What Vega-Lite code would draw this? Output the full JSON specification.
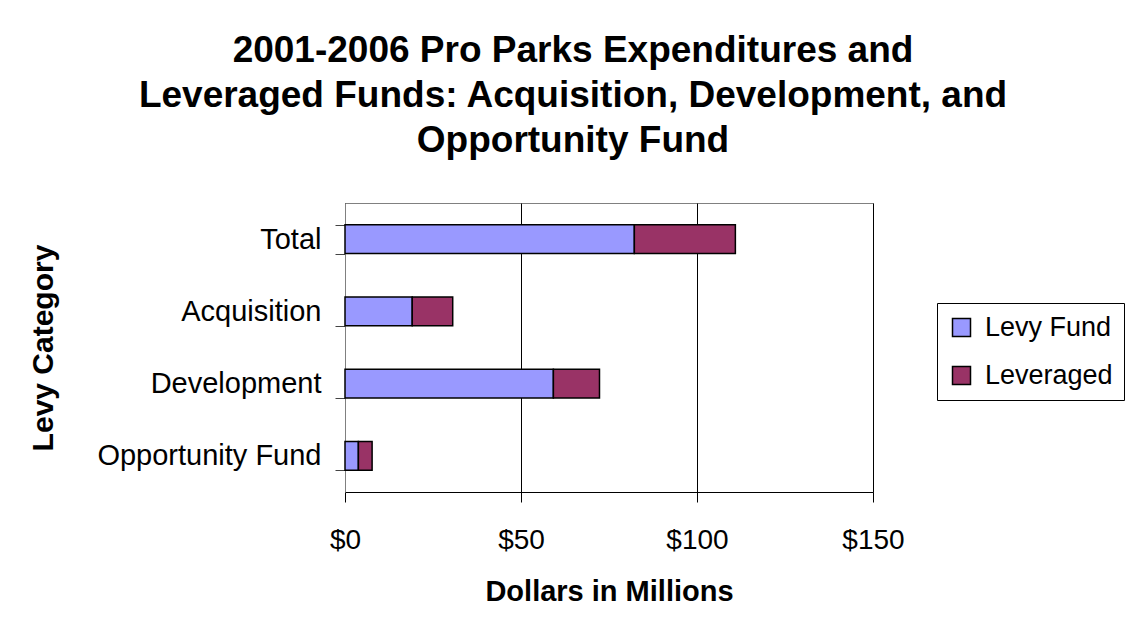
{
  "$schema": "https://vega.github.io/schema/vega-lite/v6.json",
  "autosize": {"type": "none"},
  "width": 528,
  "height": 289,
  "padding": {"left": 345, "top": 203, "right": 257, "bottom": 144},
  "background": "white",
  "title": {
    "text": ["2001-2006 Pro Parks Expenditures and", "Leveraged Funds: Acquisition, Development, and", "Opportunity Fund"],
    "font": "Liberation Sans",
    "fontSize": 37,
    "fontWeight": "bold",
    "color": "black",
    "anchor": "middle",
    "frame": "group",
    "dx": -36,
    "lineHeight": 45,
    "offset": 29
  },
  "config": {
    "view": {"stroke": "#808080", "strokeWidth": 1},
    "font": "Liberation Sans"
  },
  "data": {
    "values": [
      {"category": "Total", "series": "Levy Fund", "value": 82.2, "order": 1},
      {"category": "Total", "series": "Leveraged", "value": 28.7, "order": 2},
      {"category": "Acquisition", "series": "Levy Fund", "value": 19.1, "order": 1},
      {"category": "Acquisition", "series": "Leveraged", "value": 11.5, "order": 2},
      {"category": "Development", "series": "Levy Fund", "value": 59.2, "order": 1},
      {"category": "Development", "series": "Leveraged", "value": 13.1, "order": 2},
      {"category": "Opportunity Fund", "series": "Levy Fund", "value": 3.8, "order": 1},
      {"category": "Opportunity Fund", "series": "Leveraged", "value": 3.9, "order": 2}
    ]
  },
  "mark": {"type": "bar", "stroke": "black", "strokeWidth": 1.5},
  "encoding": {
    "y": {
      "field": "category",
      "type": "nominal",
      "sort": ["Total", "Acquisition", "Development", "Opportunity Fund"],
      "scale": {"paddingInner": 0.6, "paddingOuter": 0.3},
      "axis": {
        "title": "Levy Category",
        "titleFont": "Liberation Sans",
        "titleFontSize": 30,
        "titleFontWeight": "bold",
        "titleColor": "black",
        "titleX": -302,
        "titleY": 144.5,
        "titleAngle": -90,
        "titleAlign": "center",
        "titleBaseline": "middle",
        "labelFont": "Liberation Sans",
        "labelFontSize": 29,
        "labelColor": "black",
        "labelPadding": 14,
        "labelLimit": 0,
        "tickBand": "extent",
        "tickSize": 10,
        "tickColor": "#444444",
        "domainColor": "#808080",
        "grid": false
      }
    },
    "x": {
      "field": "value",
      "type": "quantitative",
      "stack": "zero",
      "scale": {"domain": [0, 150], "nice": false},
      "axis": {
        "title": "Dollars in Millions",
        "titleFont": "Liberation Sans",
        "titleFontSize": 29,
        "titleFontWeight": "bold",
        "titleColor": "black",
        "titlePadding": 23,
        "values": [0, 50, 100, 150],
        "format": "$.0f",
        "labelFont": "Liberation Sans",
        "labelFontSize": 28,
        "labelColor": "black",
        "labelPadding": 24,
        "labelFlush": false,
        "labelOverlap": false,
        "tickSize": 10,
        "tickColor": "black",
        "domainColor": "black",
        "grid": true,
        "gridColor": "black",
        "gridOpacity": 1
      }
    },
    "color": {
      "field": "series",
      "type": "nominal",
      "sort": ["Levy Fund", "Leveraged"],
      "scale": {"domain": ["Levy Fund", "Leveraged"], "range": ["#9999FF", "#993366"]},
      "legend": {
        "title": null,
        "orient": "none",
        "legendX": 592,
        "legendY": 100,
        "strokeColor": "black",
        "fillColor": "white",
        "padding": 11,
        "symbolType": "square",
        "symbolSize": 324,
        "symbolStrokeColor": "black",
        "symbolStrokeWidth": 1.5,
        "symbolOpacity": 1,
        "labelFont": "Liberation Sans",
        "labelFontSize": 27,
        "labelColor": "black",
        "labelOffset": 10,
        "rowPadding": 20
      }
    },
    "order": {"field": "order", "type": "quantitative"}
  }
}
